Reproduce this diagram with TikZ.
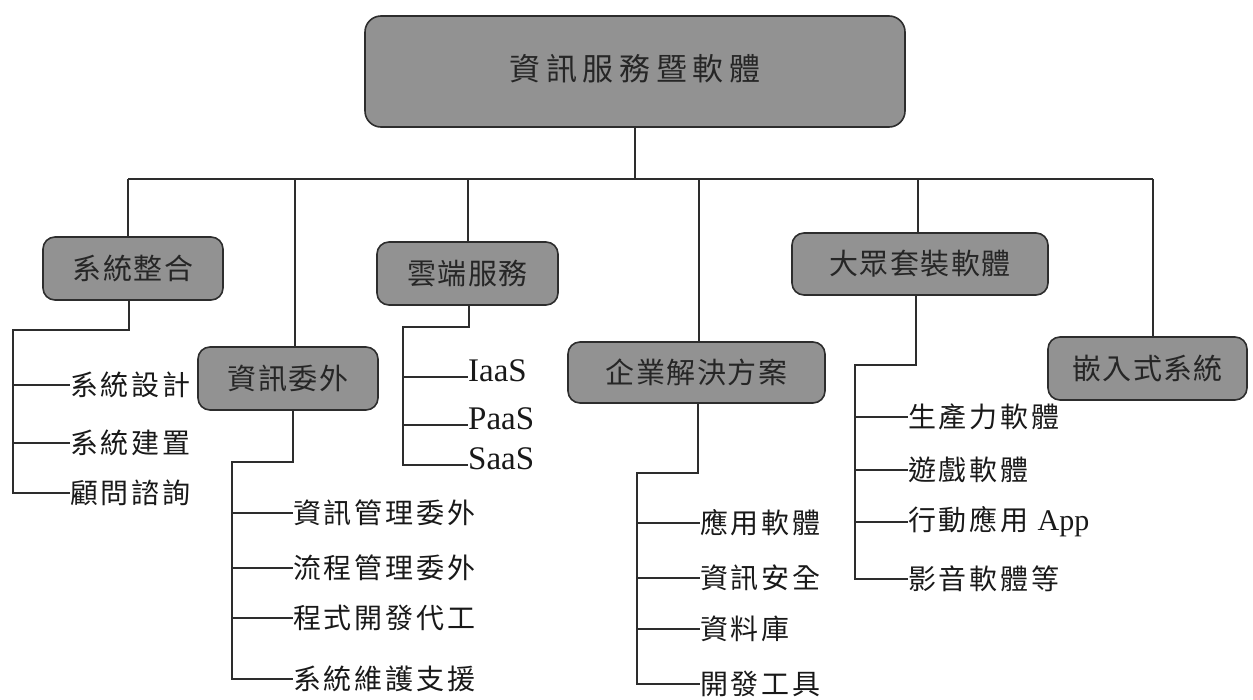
\documentclass[tikz,border=0pt]{standalone}
\usepackage{fontspec}
\setmainfont{Liberation Serif}
\newfontfamily\cjktop[LetterSpace=18]{Noto Sans CJK TC}
\newfontfamily\cjkbox[LetterSpace=5]{Noto Sans CJK TC}
\newfontfamily\cjkleaf[LetterSpace=10]{Noto Sans CJK TC}
\definecolor{boxfill}{RGB}{146,146,146}
\definecolor{edge}{RGB}{45,45,45}
\begin{document}
\begin{tikzpicture}[x=1pt,y=-1pt,
  cat/.style={draw=edge, line width=1.6pt, fill=boxfill, rounded corners=12pt, inner sep=0pt,
    font=\cjkbox\fontsize{29}{34}\selectfont, text=black!85},
  leaf/.style={anchor=west, inner sep=0pt, font=\cjkleaf\fontsize{28}{32}\selectfont, text=black!90},
  lat/.style={anchor=base west, inner sep=0pt, font=\rmfamily\fontsize{33}{38}\selectfont, text=black!90},
  conn/.style={draw=edge, line width=1.5pt}]
\useasboundingbox (0,0) rectangle (1253,699);

% top node
\node[cat, minimum width=540pt, minimum height=111pt, rounded corners=16pt,
  font=\cjktop\fontsize{31}{36}\selectfont] (top) at (635,71.5) {\raisebox{9pt}{資訊服務暨軟體}};

% category nodes
\node[cat, minimum width=180pt, minimum height=63pt] (c1) at (133,268.5) {系統整合};
\node[cat, minimum width=180pt, minimum height=63pt] (c2) at (288,378.5) {資訊委外};
\node[cat, minimum width=181pt, minimum height=63pt] (c3) at (467.5,273.5) {雲端服務};
\node[cat, minimum width=257pt, minimum height=61pt] (c4) at (696.5,372.5) {企業解決方案};
\node[cat, minimum width=256pt, minimum height=62pt] (c5) at (920,264) {大眾套裝軟體};
\node[cat, minimum width=199pt, minimum height=63pt] (c6) at (1147.5,368.5) {嵌入式系統};

% bus
\coordinate (b1) at (128,179);
\coordinate (b2) at (295,179);
\coordinate (b3) at (468,179);
\coordinate (b4) at (699,179);
\coordinate (b5) at (918,179);
\coordinate (b6) at (1153,179);
\draw[conn] (top.south) -- (top.south |- b1);
\draw[conn] (b1) -- (b6);
\draw[conn] (b1) -- (b1 |- c1.north);
\draw[conn] (b2) -- (b2 |- c2.north);
\draw[conn] (b3) -- (b3 |- c3.north);
\draw[conn] (b4) -- (b4 |- c4.north);
\draw[conn] (b5) -- (b5 |- c5.north);
\draw[conn] (b6) -- (b6 |- c6.north);

% group 1
\coordinate (t1) at (129,330);
\coordinate (k1) at (13,330);
\node[leaf] (a11) at (70,385) {系統設計};
\node[leaf] (a12) at (70,443) {系統建置};
\node[leaf] (a13) at (70,493) {顧問諮詢};
\draw[conn] (t1 |- c1.south) -- (t1) -- (k1) -- (k1 |- a13.west) -- (a13.west);
\draw[conn] (k1 |- a11.west) -- (a11.west);
\draw[conn] (k1 |- a12.west) -- (a12.west);

% group 2
\coordinate (t2) at (293,462);
\coordinate (k2) at (232,462);
\node[leaf] (a21) at (293,513) {資訊管理委外};
\node[leaf] (a22) at (293,568) {流程管理委外};
\node[leaf] (a23) at (293,618) {程式開發代工};
\node[leaf] (a24) at (293,679) {系統維護支援};
\draw[conn] (t2 |- c2.south) -- (t2) -- (k2) -- (k2 |- a24.west) -- (a24.west);
\draw[conn] (k2 |- a21.west) -- (a21.west);
\draw[conn] (k2 |- a22.west) -- (a22.west);
\draw[conn] (k2 |- a23.west) -- (a23.west);

% group 3
\coordinate (t3) at (469,327);
\coordinate (k3) at (403,327);
\coordinate (p31) at (468,377);
\coordinate (p32) at (468,425);
\coordinate (p33) at (468,465);
\node[lat] (a31) at ([yshift=-4pt]p31) {IaaS};
\node[lat] (a32) at ([yshift=-4pt]p32) {PaaS};
\node[lat] (a33) at ([yshift=-4pt]p33) {SaaS};
\draw[conn] (t3 |- c3.south) -- (t3) -- (k3) -- (k3 |- p33) -- (p33);
\draw[conn] (k3 |- p31) -- (p31);
\draw[conn] (k3 |- p32) -- (p32);

% group 4
\coordinate (t4) at (698,473);
\coordinate (k4) at (637,473);
\node[leaf] (a41) at (700,523) {應用軟體};
\node[leaf] (a42) at (700,578) {資訊安全};
\node[leaf] (a43) at (700,629) {資料庫};
\node[leaf] (a44) at (700,684) {開發工具};
\draw[conn] (t4 |- c4.south) -- (t4) -- (k4) -- (k4 |- a44.west) -- (a44.west);
\draw[conn] (k4 |- a41.west) -- (a41.west);
\draw[conn] (k4 |- a42.west) -- (a42.west);
\draw[conn] (k4 |- a43.west) -- (a43.west);

% group 5
\coordinate (t5) at (916,365);
\coordinate (k5) at (855,365);
\node[leaf] (a51) at (908,417) {生產力軟體};
\node[leaf] (a52) at (908,470) {遊戲軟體};
\node[leaf] (a53) at (908,522) {行動應用 {\rmfamily\fontsize{30}{34}\selectfont App}};
\node[leaf] (a54) at (908,579) {影音軟體等};
\draw[conn] (t5 |- c5.south) -- (t5) -- (k5) -- (k5 |- a54.west) -- (a54.west);
\draw[conn] (k5 |- a51.west) -- (a51.west);
\draw[conn] (k5 |- a52.west) -- (a52.west);
\draw[conn] (k5 |- a53.west) -- (a53.west);
\end{tikzpicture}
\end{document}
